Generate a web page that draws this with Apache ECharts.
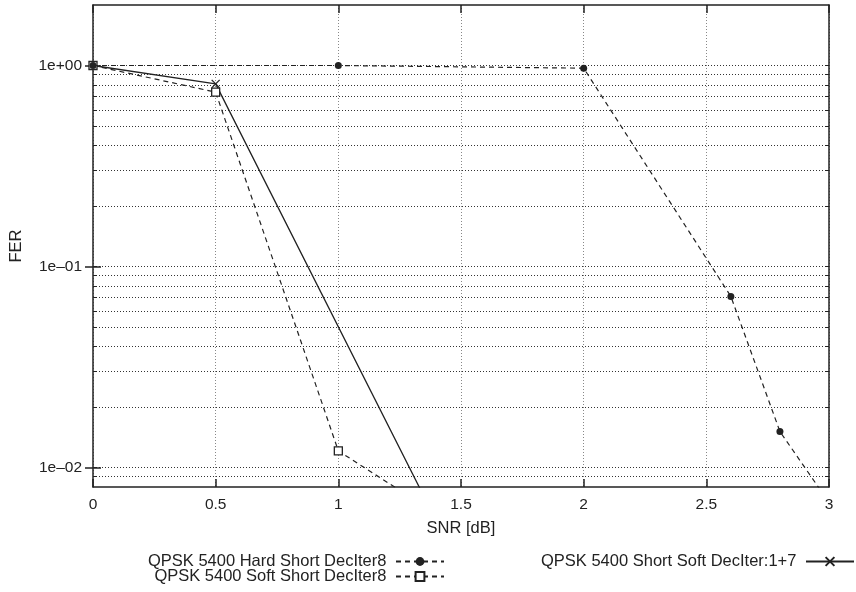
<!DOCTYPE html>
<html>
<head>
<meta charset="utf-8">
<script src="https://cdn.jsdelivr.net/npm/echarts@6/dist/echarts.min.js"></script>
<style>
  html, body { margin: 0; padding: 0; background: #fff; }
  #chart { width: 856px; height: 592px; }
</style>
</head>
<body>
<div id="chart"></div>
<script>
// SNR [dB] / FER values
const hardName = 'QPSK 5400 Hard Short DecIter8'
const hardSnr = [0, 1, 2, 2.6, 2.8, 3]
const hardFer = [1, 1, 0.97, 0.071, 0.0151, 0.0067]

const softName = 'QPSK 5400 Soft Short DecIter8'
const softSnr = [0, 0.5, 1, 1.5]
const softFer = [1, 0.737, 0.0121, 0.0049]

const iterName = 'QPSK 5400 Short Soft DecIter:1+7'
const iterSnr = [0, 0.5, 1.5]
const iterFer = [1, 0.81, 0.0031]

// y axis ticks (log)
const yMajor = [0.01, 0.1, 1]
const yMajorLabels = ['1e\u201302', '1e\u201301', '1e+00']
const yMinor = [0.009, 0.02, 0.03, 0.04, 0.05, 0.06, 0.07, 0.08, 0.09,
  0.2, 0.3, 0.4, 0.5, 0.6, 0.7, 0.8, 0.9]

const font = 'Liberation Sans, Arial, Helvetica, sans-serif'
const ink = '#222'
const tickFont = 15.5
const textFont = 16.5

function pairs(xs, ys) {
  return xs.map((x, i) => [x, ys[i]])
}

const chart = echarts.init(document.getElementById('chart'))

const frameLine = { show: true, onZero: false, lineStyle: { color: ink, width: 1.5 } }
const yBase = { type: 'log', logBase: 10, min: 0.008, max: 2 }

chart.setOption({
  animation: false,
  textStyle: { fontFamily: font, color: ink },
  grid: { left: 92, right: 27, top: 5, bottom: 105 },
  xAxis: [{
    type: 'value', min: 0, max: 3, interval: 0.5, position: 'bottom',
    name: 'SNR [dB]', nameLocation: 'middle', nameGap: 33,
    nameTextStyle: { fontSize: textFont, color: ink, fontFamily: font },
    axisLine: frameLine,
    axisTick: { inside: true, length: 8, lineStyle: { color: ink, width: 1.5 } },
    axisLabel: { margin: 10, fontSize: tickFont, color: ink, fontFamily: font },
    splitLine: { show: true, lineStyle: { color: '#888', type: [1, 2], width: 1 } }
  }, {
    type: 'value', min: 0, max: 3, interval: 0.5, position: 'top',
    axisLine: frameLine,
    axisTick: { inside: true, length: 8, lineStyle: { color: ink, width: 1.5 } },
    axisLabel: { show: false },
    splitLine: { show: false }
  }],
  yAxis: [Object.assign({}, yBase, {
    position: 'left',
    name: 'FER', nameLocation: 'middle', nameGap: 68, nameRotate: 90,
    nameTextStyle: { fontSize: textFont, color: ink, fontFamily: font },
    axisLine: frameLine,
    axisTick: { inside: true, length: 4, customValues: yMinor.concat(yMajor), lineStyle: { color: ink } },
    axisLabel: {
      margin: 11, fontSize: tickFont, color: ink, fontFamily: font,
      customValues: yMajor,
      formatter: v => {
        const i = yMajor.findIndex(m => Math.abs(m - v) / m < 1e-6)
        return i < 0 ? '' : yMajorLabels[i]
      }
    },
    splitLine: { show: true, lineStyle: { color: '#333', type: [1, 2], width: 1 } }
  }), Object.assign({}, yBase, {
    position: 'right',
    axisLine: frameLine,
    axisTick: { inside: true, length: 4, customValues: yMinor.concat(yMajor), lineStyle: { color: ink } },
    axisLabel: { show: false },
    splitLine: { show: false }
  }), Object.assign({}, yBase, {
    position: 'left',
    axisLine: { show: false },
    axisTick: { inside: true, length: 8, customValues: yMajor, lineStyle: { color: ink, width: 1.5 } },
    axisLabel: { show: false },
    splitLine: { show: false }
  }), Object.assign({}, yBase, {
    position: 'right',
    axisLine: { show: false },
    axisTick: { inside: true, length: 8, customValues: yMajor, lineStyle: { color: ink, width: 1.5 } },
    axisLabel: { show: false },
    splitLine: { show: false }
  })],
  legend: [{
    data: [hardName], right: 411, top: 553
  }, {
    data: [softName], right: 411, top: 568
  }, {
    data: [iterName], right: 1, top: 553
  }].map(l => Object.assign(l, {
    align: 'right', padding: 0, itemWidth: 48, itemHeight: 11,
    selectedMode: false,
    formatter: n => n + ' ',
    textStyle: { fontSize: textFont, color: ink, fontFamily: font }
  })),
  series: [{
    name: hardName, type: 'line', data: pairs(hardSnr, hardFer), z: 4,
    symbol: 'circle', symbolSize: 7,
    lineStyle: { color: ink, width: 1.2, type: [5, 4] },
    itemStyle: { color: ink }
  }, {
    name: softName, type: 'line', data: pairs(softSnr, softFer), z: 3,
    symbol: 'rect', symbolSize: 8,
    lineStyle: { color: ink, width: 1.2, type: [5, 4] },
    itemStyle: { color: '#fff', borderColor: ink, borderWidth: 1.3 }
  }, {
    name: iterName, type: 'line', data: pairs(iterSnr, iterFer), z: 2,
    symbol: 'path://M0,0L10,10M10,0L0,10', symbolSize: 8,
    lineStyle: { color: ink, width: 1.3 },
    itemStyle: { color: 'none', borderColor: ink, borderWidth: 1.3 }
  }]
})
</script>
</body>
</html>
